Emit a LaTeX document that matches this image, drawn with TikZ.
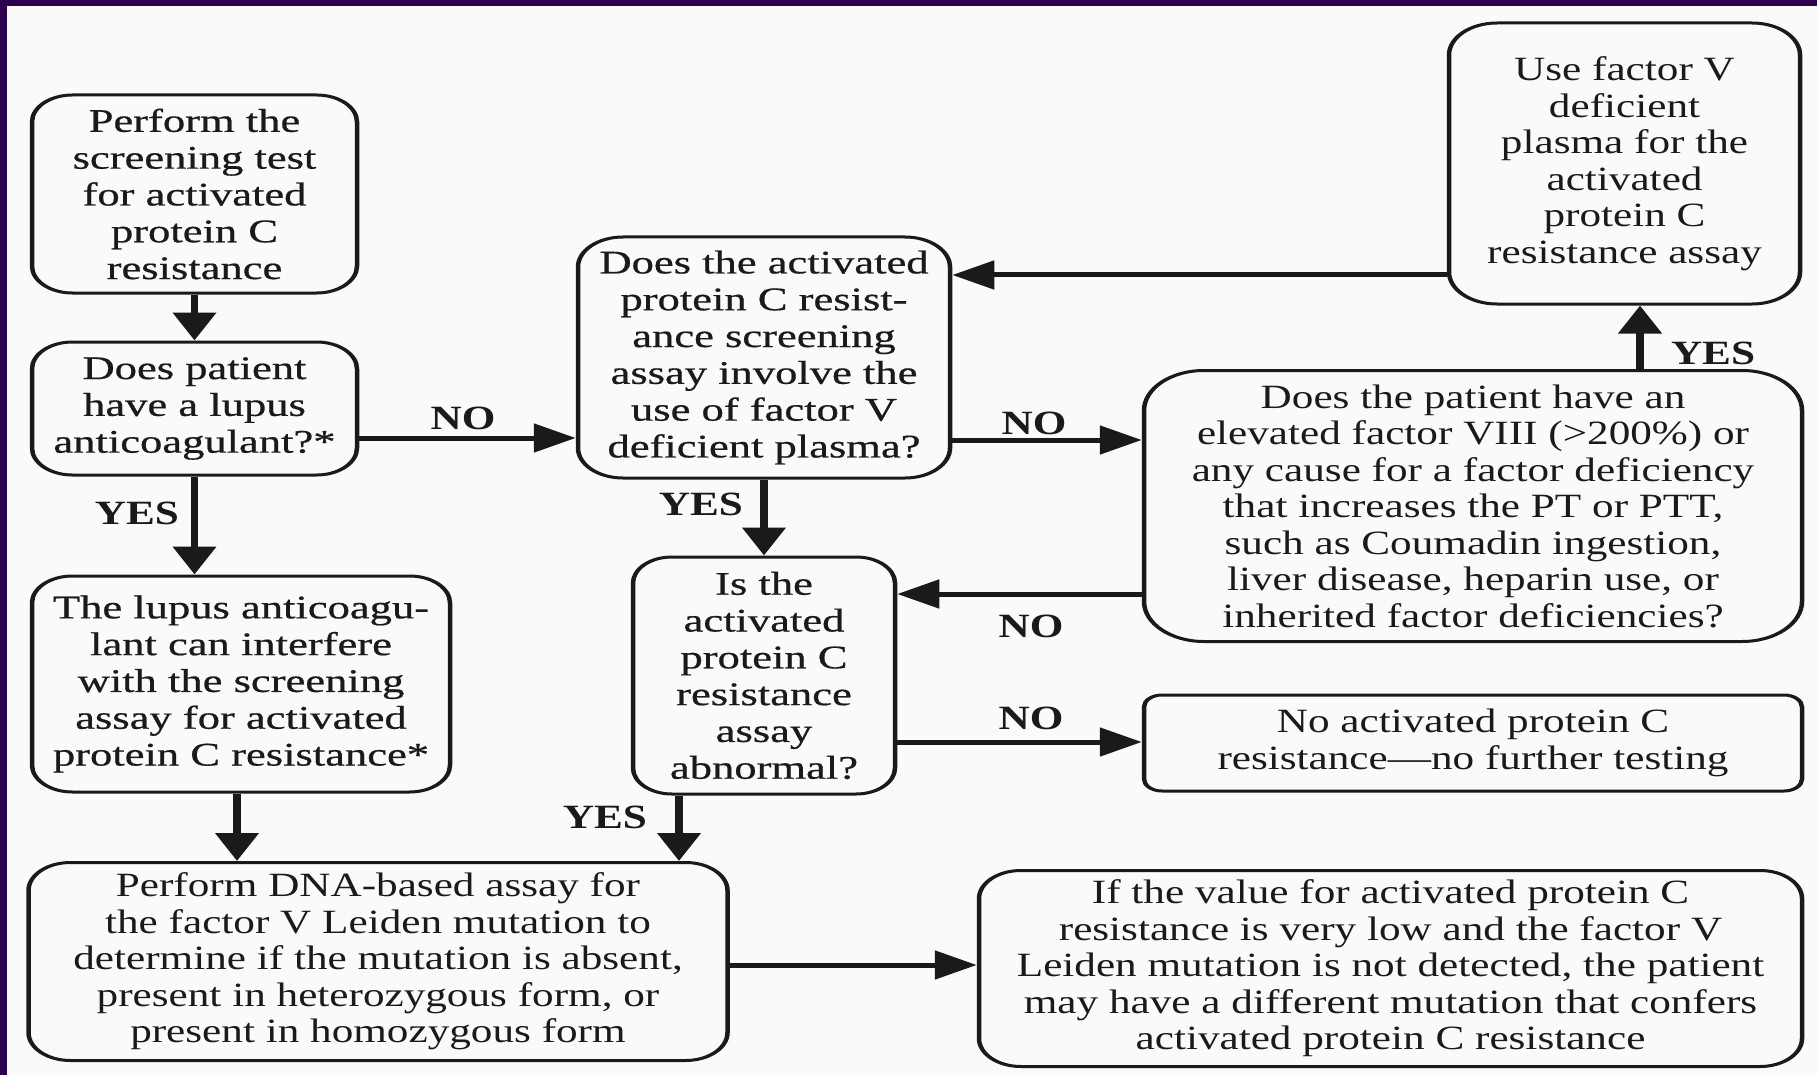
\documentclass[tikz,border=0pt]{standalone}
\usepackage{fontspec}
\setmainfont{Liberation Serif}
\newfontfamily\bookserif[Ligatures=TeX, FakeStretch=0.847]{Liberation Serif}
\newfontfamily\schoolserif[Ligatures=TeX, FakeStretch=0.9, FakeBold=0.5]{Liberation Serif}
\usetikzlibrary{arrows.meta}
\definecolor{slideframe}{HTML}{2A004F}
\definecolor{paper}{HTML}{FAFAFA}
\definecolor{ink}{HTML}{1A1A1A}
\tikzset{
  box/.style={draw=ink, line width=3pt, rounded corners=#1, align=center,
    inner sep=0pt, text=ink},
  box/.default=27pt,
  wd/.style={minimum width=#1*0.666667pt},
  ht/.style={minimum height=#1*1pt},
  school/.style={font=\schoolserif\fontsize{33}{36.8}\selectfont},
  book/.style={font=\bookserif\fontsize{34}{36.5}\selectfont},
  flow/.style={draw=ink, line width=5pt, -{Triangle[length=28pt,width=28pt]}},
  tag/.style={font=\bookserif\bfseries\fontsize{34}{36}\selectfont, text=ink,
    inner sep=0pt},
}
\begin{document}
\begin{tikzpicture}[x=1pt, y=-1pt]
% page and slide frame
\path[use as bounding box, fill=paper] (0,0) rectangle (1817,1075);
\fill[slideframe] (0,0) rectangle (7,1075);
\fill[slideframe] (0,0) rectangle (1817,6);

% the chart itself is set narrow and widened by 1.5 horizontally
\begin{scope}[transform canvas={xscale=1.5}, x=0.666667pt]
% boxes
\node[box, school, wd=325, ht=198] (b1) at (194.5,194)
  {Perform the\\screening test\\for activated\\protein C\\resistance};
\node[box, school, wd=325, ht=133] (b2) at (194.5,408.5)
  {Does patient\\have a lupus\\anticoagulant?*};
\node[box=30pt, school, wd=372, ht=241] (b3) at (764,357.5)
  {Does the activated\\protein C resist-\\ance screening\\assay involve the\\use of factor V\\deficient plasma?};
\node[box, school, wd=418, ht=216] (b4) at (241,684)
  {The lupus anticoagu-\\lant can interfere\\with the screening\\assay for activated\\protein C resistance*};
\node[box=26pt, school, wd=262, ht=237] (b6) at (764,675.5)
  {Is the\\activated\\protein C\\resistance\\assay\\abnormal?};
\node[box=40pt, book, wd=658, ht=271] (b5) at (1473,506)
  {Does the patient have an\\elevated factor VIII (>200\%) or\\any cause for a factor deficiency\\that increases the PT or PTT,\\such as Coumadin ingestion,\\liver disease, heparin use, or\\inherited factor deficiencies?};
\node[box=32pt, book, wd=351, ht=281] (b8) at (1624.5,163.5)
  {Use factor V\\deficient\\plasma for the\\activated\\protein C\\resistance assay};
\node[box=12pt, book, wd=658, ht=96] (b9) at (1473,743)
  {No activated protein C\\resistance---no further testing};
\node[box=28pt, book, wd=699, ht=198] (b7) at (378,961.5)
  {Perform DNA-based assay for\\the factor V Leiden mutation to\\determine if the mutation is absent,\\present in heterozygous form, or\\present in homozygous form};
\node[box=28pt, book, wd=823, ht=196] (b10) at (1390.5,968.5)
  {If the value for activated protein C\\resistance is very low and the factor V\\Leiden mutation is not detected, the patient\\may have a different mutation that confers\\activated protein C resistance};

% levels and columns used by the connectors
\coordinate (yLupusNo) at (0,438);
\coordinate (yPlasmaNo) at (0,440);
\coordinate (yBack) at (0,275);
\coordinate (yFactorNo) at (0,594);
\coordinate (yAbnNo) at (0,742);
\coordinate (yDna) at (0,965);
\coordinate (xInterfere) at (237,0);
\coordinate (xAbnYes) at (679,0);
\coordinate (xFactorYes) at (1640,0);

% connectors
\draw[flow] (b1.south) -- (b2.north);
\draw[flow] (b2.east |- yLupusNo) -- (b3.west |- yLupusNo);
\draw[flow] (b2.south) -- (b2.south |- b4.north);
\draw[flow] (xInterfere |- b4.south) -- (xInterfere |- b7.north);
\draw[flow] (b3.east |- yPlasmaNo) -- (b5.west |- yPlasmaNo);
\draw[flow] (b3.south) -- (b6.north);
\draw[flow] (xFactorYes |- b5.north) -- (xFactorYes |- b8.south);
\draw[flow] (b8.west |- yBack) -- (b3.east |- yBack);
\draw[flow] (b5.west |- yFactorNo) -- (b6.east |- yFactorNo);
\draw[flow] (b6.east |- yAbnNo) -- (b9.west |- yAbnNo);
\draw[flow] (xAbnYes |- b6.south) -- (xAbnYes |- b7.north);
\draw[flow] (b7.east |- yDna) -- (b10.west |- yDna);

% branch labels
\node[tag] (tNo1) at (463,418) {NO};
\node[tag] (tYes1) at (137,513) {YES};
\node[tag] (tNo2) at (1034,423) {NO};
\node[tag] (tYes2) at (701,504) {YES};
\node[tag] (tYes3) at (1713,353) {YES};
\node[tag] (tNo3) at (1031,626) {NO};
\node[tag] (tNo4) at (1031,718) {NO};
\node[tag] (tYes4) at (605,817) {YES};
\end{scope}
\end{tikzpicture}
\end{document}
